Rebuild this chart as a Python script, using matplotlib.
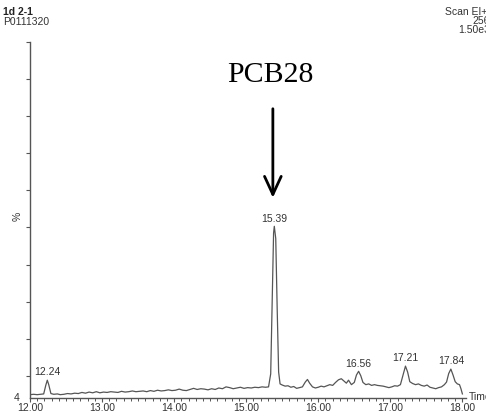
import matplotlib
matplotlib.use("Agg")
import matplotlib.pyplot as plt
from matplotlib.ticker import MultipleLocator

# retention time (min) and relative intensity (%)
times = [12.00, 12.05, 12.10, 12.15, 12.19, 12.22, 12.24, 12.26, 12.29, 12.33,
         12.38, 12.42, 12.47, 12.52, 12.57, 12.62, 12.67, 12.72, 12.77, 12.82,
         12.87, 12.92, 12.97, 13.02, 13.07, 13.12, 13.17, 13.22, 13.27, 13.32,
         13.37, 13.42, 13.47, 13.52, 13.57, 13.62, 13.67, 13.72, 13.77, 13.82,
         13.87, 13.92, 13.97, 14.02, 14.07, 14.12, 14.17, 14.22, 14.27, 14.32,
         14.37, 14.42, 14.47, 14.52, 14.57, 14.62, 14.67, 14.72, 14.77, 14.82,
         14.87, 14.92, 14.97, 15.02, 15.07, 15.12, 15.17, 15.22, 15.27, 15.31,
         15.34, 15.36, 15.38, 15.39, 15.41, 15.43, 15.45, 15.47, 15.50, 15.54,
         15.58, 15.62, 15.66, 15.70, 15.74, 15.78, 15.82, 15.85, 15.88, 15.92,
         15.96, 16.00, 16.04, 16.08, 16.12, 16.16, 16.20, 16.24, 16.28, 16.32,
         16.36, 16.39, 16.42, 16.46, 16.50, 16.53, 16.56, 16.59, 16.62, 16.66,
         16.70, 16.74, 16.78, 16.82, 16.86, 16.90, 16.94, 16.98, 17.02, 17.06,
         17.10, 17.14, 17.18, 17.21, 17.24, 17.27, 17.31, 17.35, 17.39, 17.43,
         17.47, 17.51, 17.55, 17.59, 17.63, 17.67, 17.71, 17.75, 17.78, 17.81,
         17.84, 17.87, 17.90, 17.93, 17.96, 17.98, 18.00]
intensity = [4.9, 5.0, 4.9, 5.0, 5.1, 7.5, 8.8, 7.6, 5.2, 5.0,
             5.1, 4.9, 5.0, 5.2, 5.1, 5.3, 5.2, 5.5, 5.3, 5.6,
             5.4, 5.7, 5.4, 5.6, 5.5, 5.7, 5.6, 5.5, 5.8, 5.6,
             5.7, 5.9, 5.7, 5.8, 5.9, 5.7, 6.0, 5.8, 6.1, 5.9,
             6.0, 6.2, 6.0, 6.1, 6.4, 6.1, 6.0, 6.3, 6.6, 6.3,
             6.5, 6.4, 6.2, 6.5, 6.3, 6.7, 6.5, 7.0, 6.8, 6.5,
             6.7, 6.9, 6.6, 6.8, 6.7, 6.9, 6.8, 7.0, 6.9, 7.0,
             10.5, 30.0, 48.5, 50.3, 47.0, 28.0, 11.0, 7.8, 7.5, 7.2,
             7.3, 6.9, 7.1, 6.6, 6.8, 7.0, 8.3, 9.0, 8.0, 7.0,
             6.7, 6.9, 7.2, 7.0, 7.3, 7.6, 7.4, 8.2, 8.9, 9.2,
             8.5, 8.0, 8.8, 7.6, 8.2, 10.2, 11.2, 10.0, 8.2, 7.6,
             7.8, 7.4, 7.6, 7.4, 7.3, 7.2, 7.0, 6.8, 7.0, 7.3,
             7.2, 7.6, 10.5, 12.6, 11.0, 8.4, 7.9, 7.6, 7.8, 7.4,
             7.2, 7.5, 6.9, 6.7, 6.5, 6.8, 7.0, 7.6, 8.3, 10.6,
             11.8, 10.2, 8.4, 7.8, 7.6, 6.5, 5.1]

peak_times = [12.24, 15.39, 16.56, 17.21, 17.84]
peak_heights = [8.8, 50.3, 11.2, 12.6, 11.8]
x_labels = ["12.00", "13.00", "14.00", "15.00", "16.00", "17.00", "18.00"]

W, H = 486, 412
fig = plt.figure(figsize=(W / 100, H / 100), dpi=100)
ax = fig.add_axes([30 / W, 14 / H, 436 / W, 356 / H])

grey = "#555555"
txt = "#333333"
ax.plot(times, intensity, color=grey, lw=0.9)

ax.set_xlim(12.0, 18.05)
ax.set_ylim(4, 100)

for s in ["top", "right"]:
    ax.spines[s].set_visible(False)
for s in ["left", "bottom"]:
    ax.spines[s].set_color(grey)
    ax.spines[s].set_linewidth(1.0)

ax.set_xticks([12, 13, 14, 15, 16, 17, 18])
ax.set_xticklabels(x_labels, fontsize=7.5, family="Liberation Sans", color=txt)
ax.xaxis.set_minor_locator(MultipleLocator(0.1))
ax.tick_params(axis="x", which="major", direction="out", length=3, width=0.8,
               color=grey, pad=0.5)
ax.tick_params(axis="x", which="minor", direction="out", length=2, width=0.7,
               color=grey)

ax.set_yticks(range(10, 101, 10))
ax.set_yticklabels([])
ax.tick_params(axis="y", direction="out", length=3, width=0.8, color=grey)

# peak labels
for t, h in zip(peak_times, peak_heights):
    ax.annotate(f"{t:.2f}", (t, h), xytext=(0, 2), textcoords="offset points",
                ha="center", va="bottom", fontsize=7.5, family="Liberation Sans",
                color=txt)

ax.text(-0.025, 4, "4", transform=ax.get_yaxis_transform(), ha="right",
        va="center", fontsize=7.5, family="Liberation Sans", color=txt)
ax.text(-0.028, 53, "%", transform=ax.get_yaxis_transform(), ha="center",
        va="center", rotation=90, fontsize=7.5, family="Liberation Sans",
        color=txt)

fig.text(469 / W, 1 - 397 / H, "Time", ha="left", va="center", fontsize=7.5,
         family="Liberation Sans", color=txt)

# header texts
fig.text(3 / W, 1 - 12 / H, "1d 2-1", ha="left", va="center", fontsize=7.5,
         family="Liberation Sans", weight="bold", color="#222222")
fig.text(3 / W, 1 - 22 / H, "P0111320", ha="left", va="center", fontsize=7.5,
         family="Liberation Sans", color=txt)
fig.text(487 / W, 1 - 12 / H, "Scan EI+", ha="right", va="center", fontsize=7.5,
         family="Liberation Sans", color=txt)
fig.text(490 / W, 1 - 21 / H, "256", ha="right", va="center", fontsize=7.5,
         family="Liberation Sans", color=txt)
fig.text(490 / W, 1 - 30 / H, "1.50e3", ha="right", va="center", fontsize=7.5,
         family="Liberation Sans", color=txt)

# PCB28 callout
fig.text(270 / W, 1 - 75 / H, "PCB28", ha="center", va="center", fontsize=21.5,
         family="Liberation Serif", color="black")
ax.annotate("", xy=(15.37, 58), xytext=(15.37, 82),
            arrowprops=dict(arrowstyle="->,head_length=1.3,head_width=0.6",
                            color="black", lw=2, shrinkA=0, shrinkB=0))

fig.savefig("out.png", dpi=100)
